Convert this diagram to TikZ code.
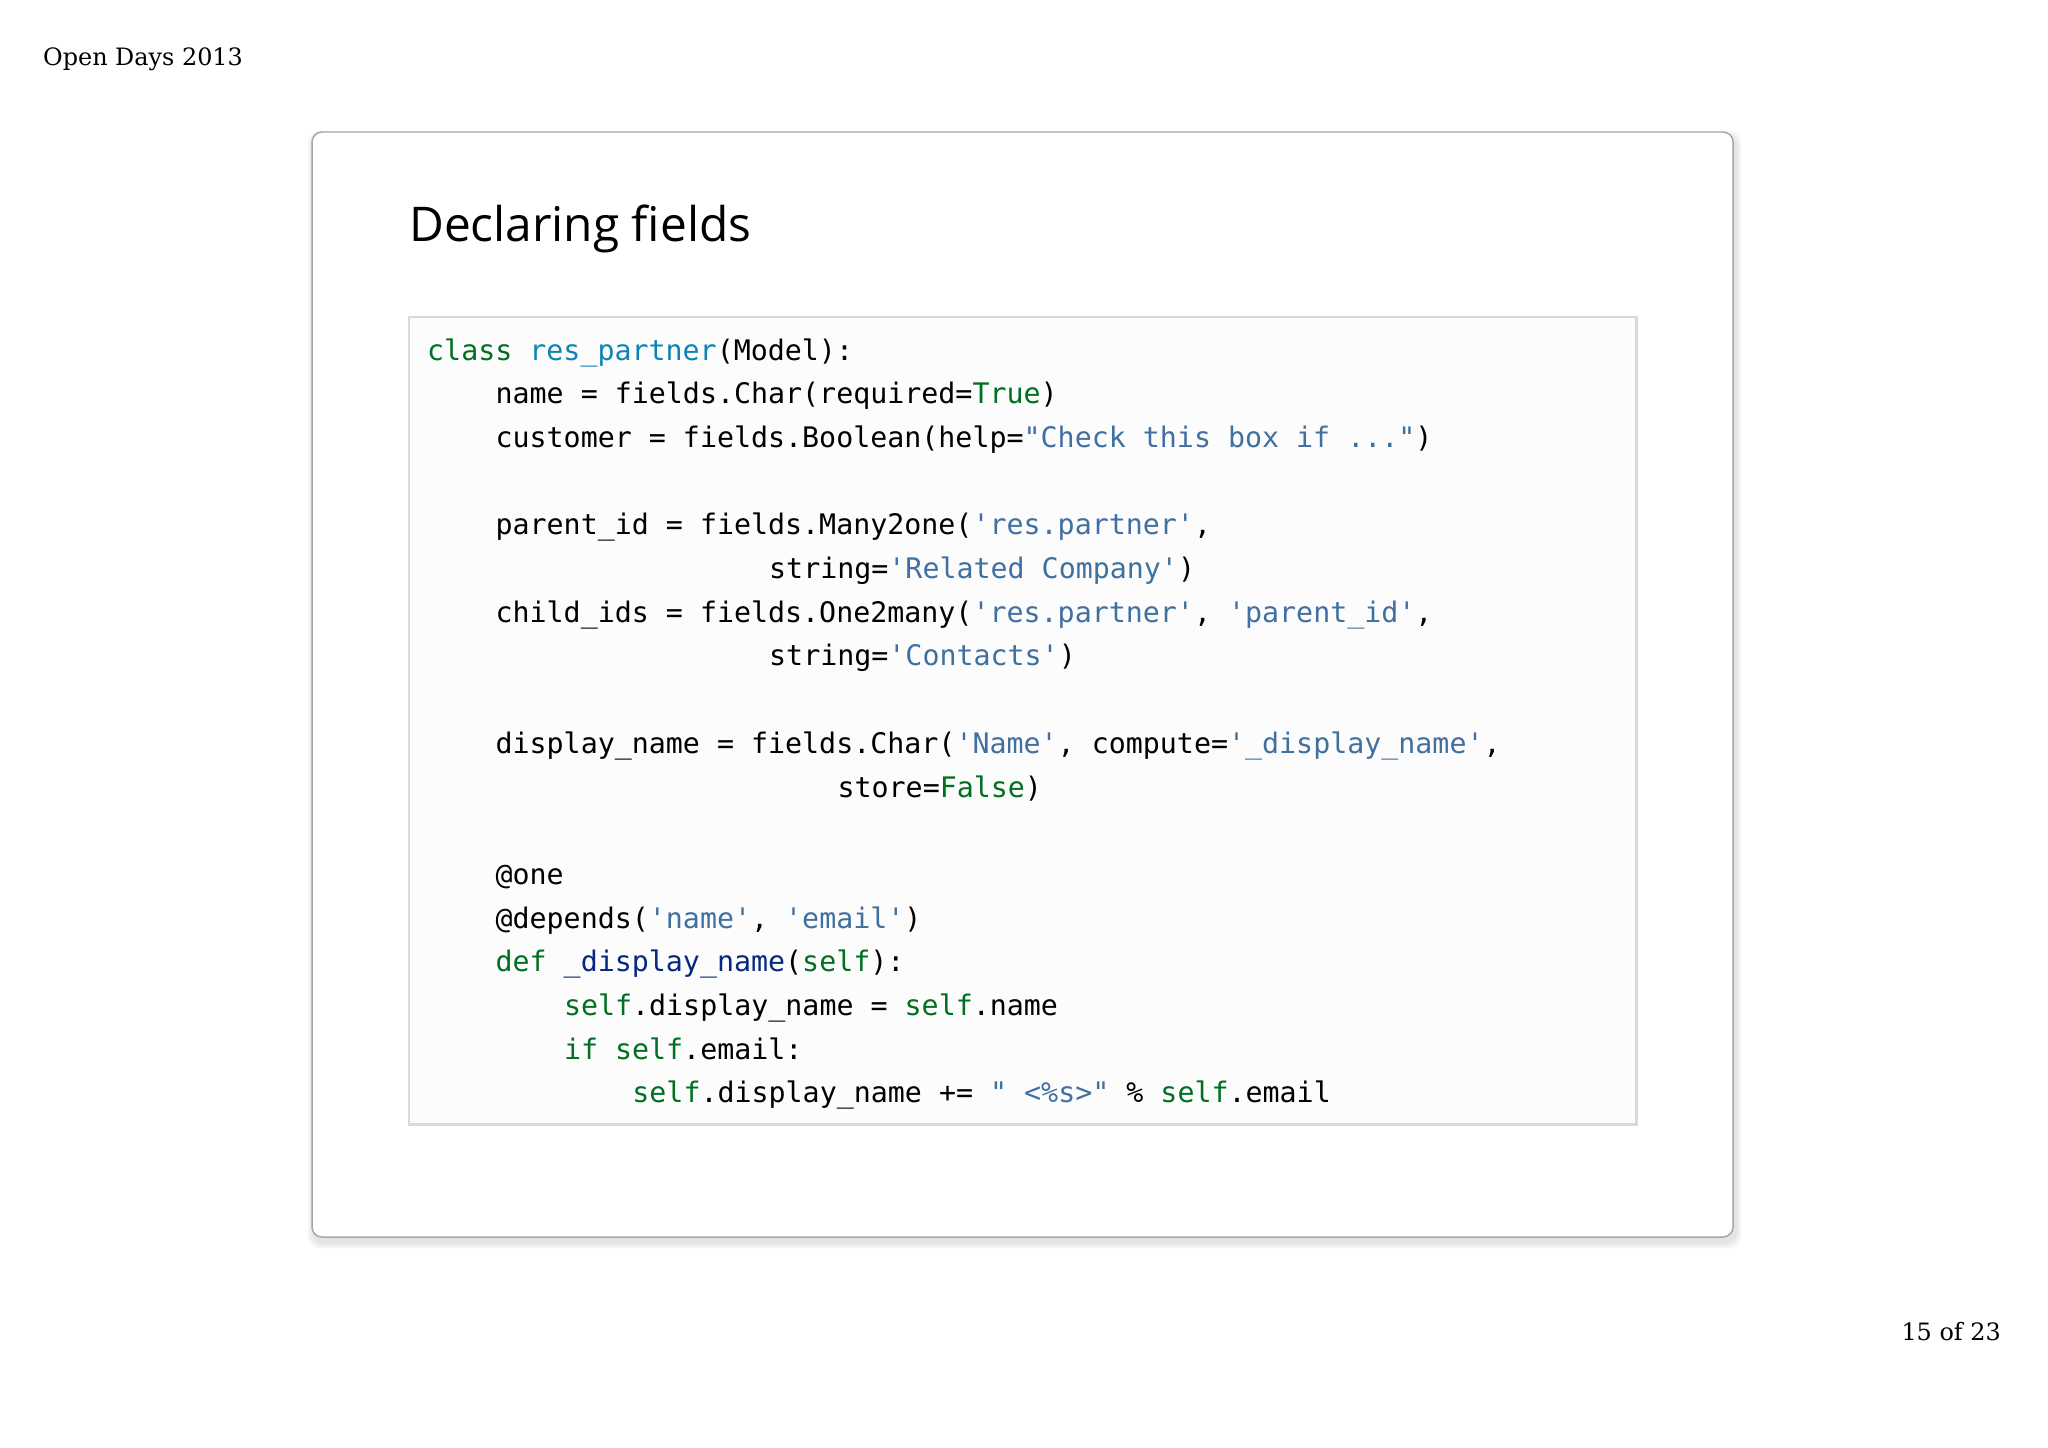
\documentclass[tikz,border=0pt]{standalone}
\usepackage{fontspec}
\setmainfont{DejaVu Serif}
\newfontfamily\titlefont{Open Sans}
\setmonofont{DejaVu Sans Mono}
\definecolor{kwc}{HTML}{007020}
\definecolor{clsc}{HTML}{0E84B5}
\definecolor{strc}{HTML}{4070A0}
\definecolor{fnc}{HTML}{06287E}
\newcommand\kw[1]{\textcolor{kwc}{#1}}
\newcommand\st[1]{\textcolor{strc}{#1}}
\newcommand\sq{\char39 }
\newcommand\dq{\char34 }
\tikzset{codeline/.style={anchor=base west,inner sep=0pt,font=\ttfamily\fontsize{28.4}{30}\selectfont}}
\begin{document}
\begin{tikzpicture}[x=1bp,y=-1bp]
\useasboundingbox (0,0) rectangle (2048,1448);
\node[anchor=base west,inner sep=0pt,font=\fontsize{24}{28}\selectfont] (hdr) at (43,66) {Open Days 2013};
\node[anchor=base east,inner sep=0pt,font=\fontsize{24}{28}\selectfont] (pg) at (2001,1340) {15 of 23};
% card
\foreach \o/\g in {6/4,4/7,2/10}{\fill[black!\g,rounded corners=12] (312-\o+2,132-\o+5) rectangle (1733+\o+2,1237+\o+5);}
\draw[black!35,line width=1.5,fill=white,rounded corners=10] (312,132) rectangle (1733,1237);
\node[anchor=base west,inner sep=0pt,font=\titlefont\fontsize{48}{54}\selectfont] (title) at (409,242) {Declaring fields};
\draw[black!15,line width=3,fill=black!1] (409,317) rectangle (1636,1124);
\def\cw{17.1}
\def\lh{43.7}
\foreach \n/\i/\t in {
0/0/{\kw{class} \textcolor{clsc}{res\_partner}(Model):},
1/4/{name = fields.Char(required=\kw{True})},
2/4/{customer = fields.Boolean(help=\st{\dq Check this box if ...\dq})},
4/4/{parent\_id = fields.Many2one(\st{\sq res.partner\sq},},
5/20/{string=\st{\sq Related Company\sq})},
6/4/{child\_ids = fields.One2many(\st{\sq res.partner\sq}, \st{\sq parent\_id\sq},},
7/20/{string=\st{\sq Contacts\sq})},
9/4/{display\_name = fields.Char(\st{\sq Name\sq}, compute=\st{\sq\_display\_name\sq},},
10/24/{store=\kw{False})},
12/4/{@one},
13/4/{@depends(\st{\sq name\sq}, \st{\sq email\sq})},
14/4/{\kw{def} \textcolor{fnc}{\_display\_name}(\kw{self}):},
15/8/{\kw{self}.display\_name = \kw{self}.name},
16/8/{\kw{if} \kw{self}.email:},
17/12/{\kw{self}.display\_name += \st{\dq{} <\%s>\dq} \% \kw{self}.email}}
{\node[codeline] (l\n) at ({427+\i*\cw},{360+\n*\lh}) {\t};}
\end{tikzpicture}
\end{document}
